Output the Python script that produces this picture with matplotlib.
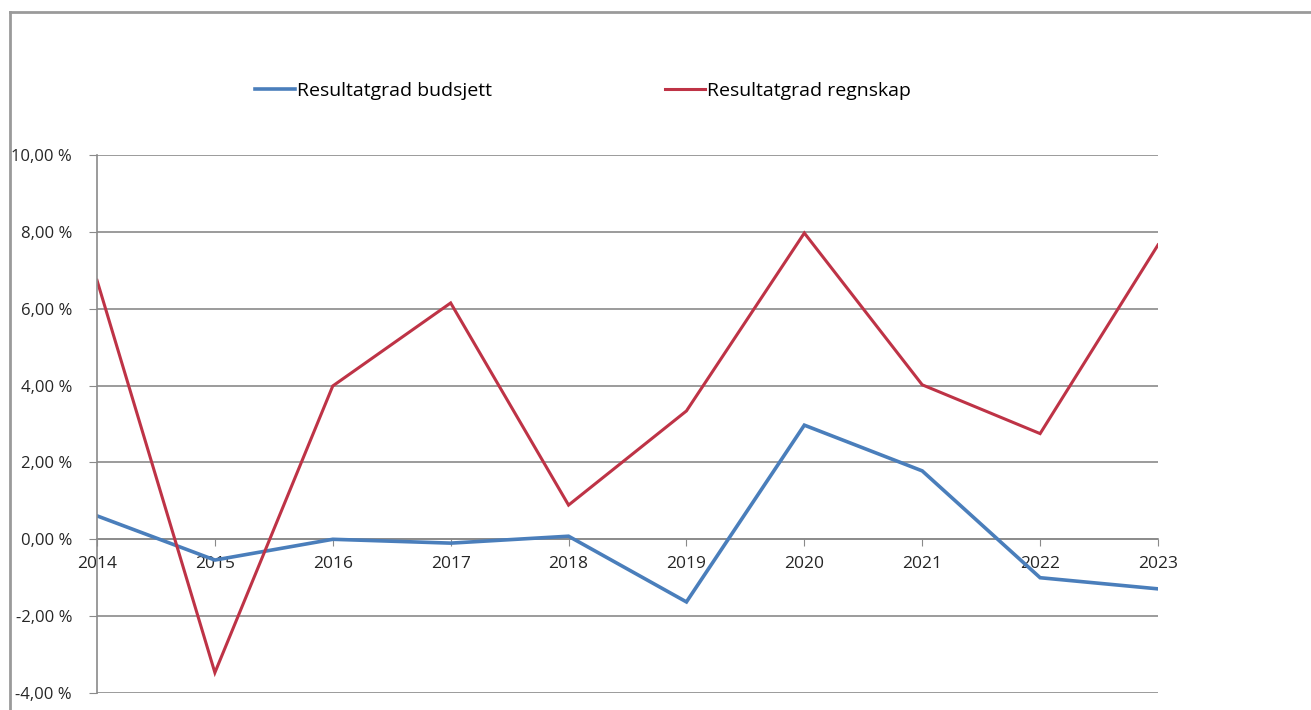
import matplotlib.pyplot as plt
from matplotlib.lines import Line2D

plt.rcParams['font.family'] = ['Open Sans', 'DejaVu Sans']

# data (percent)
years = ['2014', '2015', '2016', '2017', '2018', '2019', '2020', '2021', '2022', '2023']
budsjett = [0.61, -0.54, 0.0, -0.10, 0.08, -1.63, 2.97, 1.78, -1.00, -1.29]
regnskap = [6.74, -3.47, 3.99, 6.15, 0.89, 3.34, 7.97, 4.02, 2.75, 7.66]
yticks = [-4, -2, 0, 2, 4, 6, 8, 10]
ylabels = ['-4,00 %', '-2,00 %', '0,00 %', '2,00 %', '4,00 %', '6,00 %', '8,00 %', '10,00 %']

W, H = 1311, 710
fig = plt.figure(figsize=(W / 100, H / 100), dpi=100)
ax = fig.add_axes([97 / W, 1 - 693 / H, (1158 - 97) / W, (693 - 155) / H])

x = list(range(len(years)))
ax.plot(x, budsjett, color='#4A7EBB', lw=2.6, label='Resultatgrad budsjett', solid_joinstyle='miter')
ax.plot(x, regnskap, color='#BE3346', lw=2.2, label='Resultatgrad regnskap', solid_joinstyle='miter')

ax.set_xlim(0, len(years) - 1)
ax.set_ylim(-4, 10)
ax.set_yticks(yticks)
ax.set_yticklabels(ylabels)
ax.set_xticks(x)
ax.set_xticklabels(years)

ax.yaxis.grid(True, color='#8A8A8A', lw=1.2)
ax.set_axisbelow(True)
for s in ['top', 'right']:
    ax.spines[s].set_visible(False)
ax.spines['left'].set_color('#8A8A8A')
ax.spines['left'].set_linewidth(1.2)
ax.spines['bottom'].set_position(('data', 0))
ax.spines['bottom'].set_color('#8A8A8A')
ax.spines['bottom'].set_linewidth(1.2)
ax.spines['bottom'].set_zorder(0.5)

ax.tick_params(axis='y', length=6, color='#8A8A8A', labelsize=12, labelcolor='#262626', pad=12)
ax.tick_params(axis='x', length=5, color='#8A8A8A', labelsize=12.5, labelcolor='#262626', pad=7)

fig.legend(loc='center left', bbox_to_anchor=(255 / W, 1 - 91 / H), ncol=2, frameon=False,
           handlelength=2.05, handletextpad=0.1, columnspacing=8.9, borderpad=0, borderaxespad=0,
           prop={'size': 14})

# outer frame of the screenshot
fig.add_artist(Line2D([10 / W, 1], [1 - 12 / H, 1 - 12 / H], color='#9A9A9A', lw=2))
fig.add_artist(Line2D([10 / W, 10 / W], [0, 1 - 12 / H], color='#9A9A9A', lw=2))

fig.savefig('out.png', dpi=100)
